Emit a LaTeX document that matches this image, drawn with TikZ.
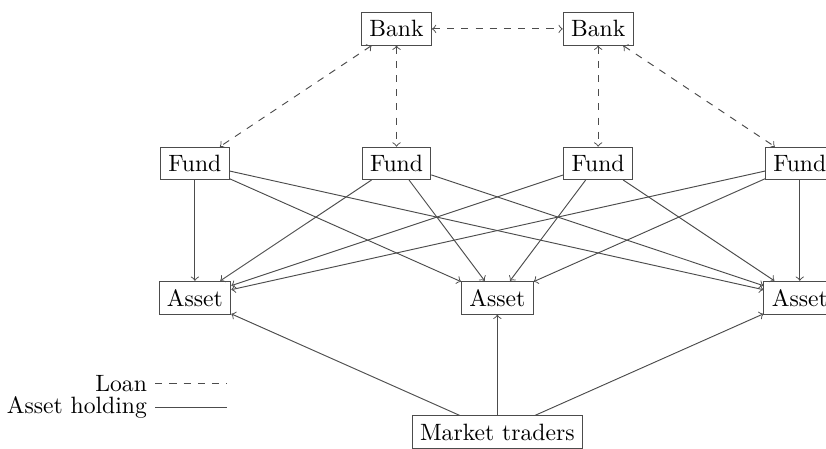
\documentclass[tikz,border=0pt]{standalone}
\begin{document}
\begin{tikzpicture}[
  line/.style={draw=black!70},
  box/.style={line, rectangle},
  loan/.style={line, dashed, <->},
  hold/.style={line, ->},
  key/.style={anchor=east, inner ysep=1pt}
]
\useasboundingbox (-5.90,-6.237) rectangle (6.39,0.43);

% banks
\node[box] (b1) at (0,0) {Bank};
\node[box] (b2) at (3,0) {Bank};

% funds
\node[box] (f1) at (-3,-2) {Fund};
\node[box] (f2) at (0,-2) {Fund};
\node[box] (f3) at (3,-2) {Fund};
\node[box] (f4) at (6,-2) {Fund};

% assets
\node[box] (a1) at (-3,-4) {Asset};
\node[box] (a2) at (1.5,-4) {Asset};
\node[box] (a3) at (6,-4) {Asset};

% market traders
\node[box] (m) at (1.5,-6) {Market traders};

% loans
\draw[loan] (b1) -- (b2);
\draw[loan] (b1) -- (f1);
\draw[loan] (b1) -- (f2);
\draw[loan] (b2) -- (f3);
\draw[loan] (b2) -- (f4);

% asset holdings
\foreach \f in {f1,f2,f3,f4}
  \foreach \a in {a1,a2,a3}
    \draw[hold] (\f) -- (\a);

\foreach \a in {a1,a2,a3}
  \draw[hold] (m) -- (\a);

% legend
\node[key] (lloan) at (-3.59,-5.27) {Loan};
\node[key] (lhold) at (-3.59,-5.64) {Asset holding};
\coordinate (eloan) at (-2.52,-5.27);
\coordinate (ehold) at (-2.52,-5.64);
\draw[line, dashed] (lloan.east) -- (eloan);
\draw[line] (lhold.east) -- (ehold);
\end{tikzpicture}
\end{document}
